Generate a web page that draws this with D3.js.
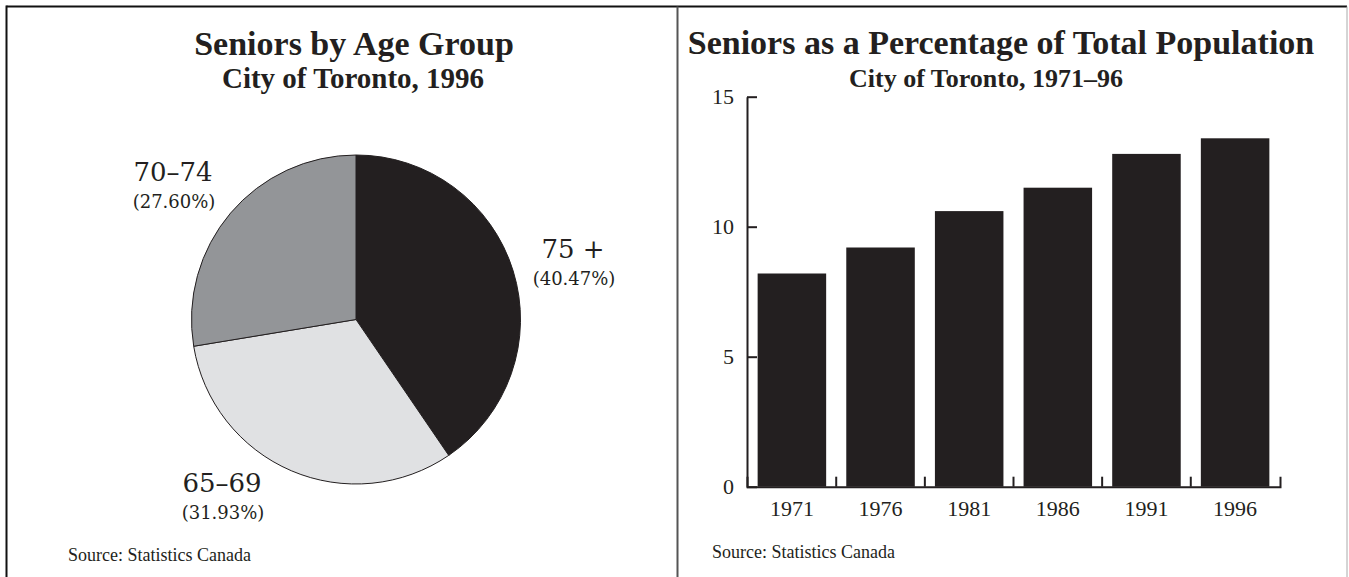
<!DOCTYPE html>
<html>
<head>
<meta charset="utf-8">
<script src="https://cdn.jsdelivr.net/npm/d3@7"></script>
<style>
  html, body { margin: 0; padding: 0; background: #fff; }
  svg { display: block; }
  text { fill: #231f20; }
</style>
</head>
<body>
<svg id="chart" width="1349" height="577"></svg>
<script>
// ---- Data ----
const pieTitle = "Seniors by Age Group";
const pieSubtitle = "City of Toronto, 1996";
const ageGroups = ["75 +", "65–69", "70–74"];
const agePercents = [40.47, 31.93, 27.60];
const ageLabels = ["(40.47%)", "(31.93%)", "(27.60%)"];

const barTitle = "Seniors as a Percentage of Total Population";
const barSubtitle = "City of Toronto, 1971–96";
const years = ["1971", "1976", "1981", "1986", "1991", "1996"];
const seniorPct = [8.2, 9.2, 10.6, 11.5, 12.8, 13.4];
const yTicks = [0, 5, 10, 15];

const sourceText = "Source: Statistics Canada";

// ---- Styles ----
const ink = "#231f20";
const pieColors = ["#231f20", "#e0e1e3", "#939598"];
const serif = "'Liberation Serif', 'Times New Roman', serif";
const labelSerif = "'DejaVu Serif', serif";

const svg = d3.select("#chart");

// Frame
svg.append("line").attr("x1", 6.5).attr("y1", 6.5).attr("x2", 1347).attr("y2", 6.5)
  .attr("stroke", "#111").attr("stroke-width", 2);
svg.append("line").attr("x1", 6.5).attr("y1", 5.5).attr("x2", 6.5).attr("y2", 577)
  .attr("stroke", "#111").attr("stroke-width", 2);
svg.append("line").attr("x1", 1347).attr("y1", 6.5).attr("x2", 1347).attr("y2", 577)
  .attr("stroke", "#aaa").attr("stroke-width", 1);
svg.append("line").attr("x1", 677.5).attr("y1", 6.5).attr("x2", 677.5).attr("y2", 577)
  .attr("stroke", "#555").attr("stroke-width", 2);

// ---- Pie chart ----
const pieG = svg.append("g");
pieG.append("text").attr("x", 354).attr("y", 55).attr("text-anchor", "middle")
  .style("font-family", serif).style("font-weight", "bold").style("font-size", "34px")
  .text(pieTitle);
pieG.append("text").attr("x", 353).attr("y", 88).attr("text-anchor", "middle")
  .style("font-family", serif).style("font-weight", "bold").style("font-size", "29px")
  .text(pieSubtitle);

const cx = 356, cy = 319.5, R = 164.5;
const pie = d3.pie().sort(null).value(d => d)(agePercents);
const arc = d3.arc().innerRadius(0).outerRadius(R);
const slices = pieG.append("g").attr("transform", `translate(${cx},${cy})`);
slices.selectAll("path").data(pie).join("path")
  .attr("d", arc)
  .attr("fill", (d, i) => pieColors[i])
  .attr("stroke", ink).attr("stroke-width", 1);

// label positions (offsets from pie centre)
const labelPos = [[217, -62], [-134, 172], [-183, -139]];
ageGroups.forEach((g, i) => {
  const [dx, dy] = labelPos[i];
  pieG.append("text").attr("x", cx + dx).attr("y", cy + dy).attr("text-anchor", "middle")
    .style("font-family", labelSerif).style("font-size", "26px").text(g);
  pieG.append("text").attr("x", cx + dx + 1).attr("y", cy + dy + 27).attr("text-anchor", "middle")
    .style("font-family", labelSerif).style("font-size", "18px").text(ageLabels[i]);
});

pieG.append("text").attr("x", 68).attr("y", 561)
  .style("font-family", serif).style("font-size", "18px").text(sourceText);

// ---- Bar chart ----
const barG = svg.append("g");
barG.append("text").attr("x", 1001).attr("y", 54).attr("text-anchor", "middle")
  .style("font-family", serif).style("font-weight", "bold").style("font-size", "34px")
  .text(barTitle);
barG.append("text").attr("x", 986).attr("y", 87).attr("text-anchor", "middle")
  .style("font-family", serif).style("font-weight", "bold").style("font-size", "26px")
  .text(barSubtitle);

const x = d3.scaleBand().domain(years).range([747, 1280]).paddingInner(0.227).paddingOuter(0.12);
const y = d3.scaleLinear().domain([0, 15]).range([486.7, 96.7]);

barG.selectAll("rect.bar").data(years).join("rect").attr("class", "bar")
  .attr("x", d => x(d))
  .attr("y", (d, i) => y(seniorPct[i]))
  .attr("width", x.bandwidth())
  .attr("height", (d, i) => y(0) - y(seniorPct[i]))
  .attr("fill", ink);

const yAxis = barG.append("g").attr("transform", `translate(747,0)`)
  .call(d3.axisLeft(y).tickValues(yTicks).tickSizeInner(-10).tickSizeOuter(0).tickPadding(13));
yAxis.selectAll("text").style("font-family", serif).style("font-size", "22px").attr("fill", ink);

const xAxis = barG.append("g").attr("transform", `translate(0,${y(0)})`)
  .call(d3.axisBottom(x).tickSizeInner(0).tickSizeOuter(-10).tickPadding(14));
xAxis.selectAll("text").style("font-family", serif).style("font-size", "22px").attr("fill", ink);

// tick marks between bars
const gapHalf = x.step() * x.paddingInner() / 2;
barG.selectAll("line.sep").data(years.slice(0, -1)).join("line").attr("class", "sep")
  .attr("x1", d => x(d) + x.bandwidth() + gapHalf)
  .attr("x2", d => x(d) + x.bandwidth() + gapHalf)
  .attr("y1", y(0)).attr("y2", y(0) - 10);

barG.selectAll(".domain, .tick line, line.sep").attr("stroke", ink).attr("stroke-width", 2);

barG.append("text").attr("x", 712).attr("y", 558)
  .style("font-family", serif).style("font-size", "18px").text(sourceText);
</script>
</body>
</html>
